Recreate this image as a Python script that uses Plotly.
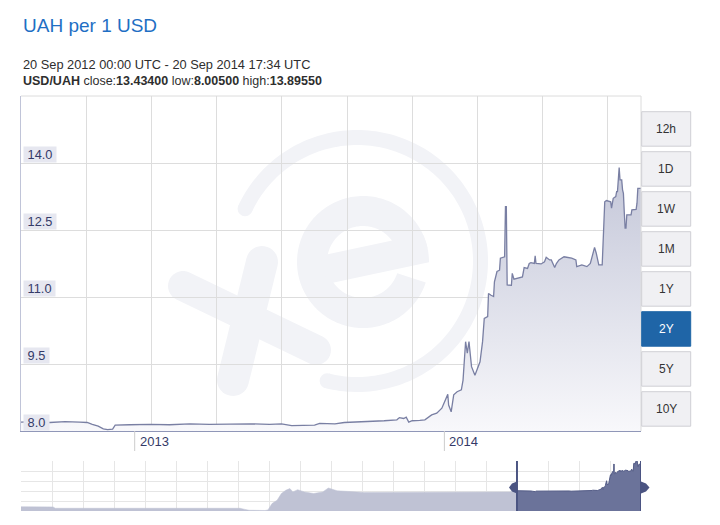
import numpy as np
import plotly.graph_objects as go

# ---------------- data ----------------
title_text = "UAH per 1 USD"
period_text = "20 Sep 2012 00:00 UTC - 20 Sep 2014 17:34 UTC"
pair_name = "USD/UAH"
stat_names = ["close", "low", "high"]
stat_values = ["13.43400", "8.00500", "13.89550"]

dates = [
    "2012-09-20", "2012-10-06", "2012-10-24", "2012-11-11", "2012-11-28", "2012-12-07",
    "2012-12-13", "2012-12-20", "2012-12-26", "2012-12-31", "2013-01-06", "2013-01-09",
    "2013-01-26", "2013-02-19", "2013-03-14", "2013-04-07", "2013-04-30", "2013-05-24",
    "2013-06-17", "2013-07-10", "2013-07-24", "2013-08-05", "2013-08-20", "2013-09-01",
    "2013-09-07", "2013-09-25", "2013-10-06", "2013-10-24", "2013-11-05", "2013-11-22",
    "2013-12-07", "2013-12-10", "2013-12-15", "2013-12-18", "2013-12-21", "2013-12-25",
    "2014-01-03", "2014-01-09", "2014-01-17", "2014-01-23", "2014-01-29", "2014-02-01",
    "2014-02-05", "2014-02-06", "2014-02-09", "2014-02-12", "2014-02-16", "2014-02-21",
    "2014-02-23", "2014-02-26", "2014-02-28", "2014-03-02", "2014-03-05", "2014-03-09",
    "2014-03-12", "2014-03-15", "2014-03-18", "2014-03-20", "2014-03-24", "2014-03-25",
    "2014-03-28", "2014-03-31", "2014-04-01", "2014-04-04", "2014-04-07", "2014-04-08",
    "2014-04-13", "2014-04-14", "2014-04-15", "2014-04-16", "2014-04-21", "2014-04-22",
    "2014-04-24", "2014-04-30", "2014-05-04", "2014-05-06", "2014-05-10", "2014-05-12",
    "2014-05-14", "2014-05-18", "2014-05-19", "2014-05-20", "2014-05-26", "2014-05-30",
    "2014-06-01", "2014-06-05", "2014-06-07", "2014-06-11", "2014-06-13", "2014-06-16",
    "2014-06-22", "2014-06-25", "2014-07-01", "2014-07-06", "2014-07-07", "2014-07-13",
    "2014-07-16", "2014-07-19", "2014-07-23", "2014-07-26", "2014-07-28", "2014-07-30",
    "2014-08-02", "2014-08-06", "2014-08-09", "2014-08-11", "2014-08-16", "2014-08-17",
    "2014-08-19", "2014-08-22", "2014-08-23", "2014-08-24", "2014-08-25", "2014-08-26",
    "2014-08-27", "2014-08-29", "2014-08-30", "2014-08-31", "2014-09-01", "2014-09-02",
    "2014-09-03", "2014-09-04", "2014-09-09", "2014-09-10", "2014-09-15", "2014-09-16",
    "2014-09-17", "2014-09-20 17:34",
]
rates = [
    8.20, 8.21, 8.19, 8.21, 8.20, 8.19,
    8.15, 8.11, 8.05, 8.03, 8.04, 8.13,
    8.14, 8.15, 8.14, 8.16, 8.15, 8.16,
    8.16, 8.15, 8.16, 8.12, 8.12, 8.13,
    8.17, 8.16, 8.19, 8.20, 8.22, 8.23,
    8.25, 8.30, 8.28, 8.31, 8.20, 8.23,
    8.24, 8.25, 8.36, 8.40, 8.51, 8.66,
    8.82, 8.58, 8.43, 8.81, 8.88, 8.92,
    9.14, 10.00, 9.74, 10.00, 9.44, 9.25,
    9.40, 9.55, 10.00, 10.52, 10.56, 11.08,
    11.04, 11.01, 11.34, 11.57, 11.60, 11.87,
    11.90, 13.02, 13.02, 11.27, 11.26, 11.53,
    11.40, 11.42, 11.45, 11.66, 11.64, 11.75,
    11.77, 11.75, 11.92, 11.75, 11.74, 11.79,
    11.89, 11.83, 11.83, 11.66, 11.75, 11.83,
    11.90, 11.89, 11.87, 11.83, 11.68, 11.72,
    11.70, 11.68, 11.75, 11.98, 12.11, 11.98,
    11.72, 11.72, 13.13, 13.16, 13.13, 12.99,
    13.21, 13.25, 13.36, 13.36, 13.66, 13.90,
    13.62, 13.62, 13.40, 13.32, 12.91, 12.54,
    12.54, 12.84, 12.84, 12.95, 12.96, 13.10,
    13.43, 13.434,
]

# longer history shown in the navigator strip
hist_dates = [
    "2004-09-20", "2005-03-28", "2005-04-10", "2008-04-02", "2008-05-01", "2008-05-26",
    "2008-08-27", "2008-09-14", "2008-10-08", "2008-11-07", "2008-12-02", "2008-12-28",
    "2009-01-21", "2009-02-08", "2009-03-08", "2009-04-16", "2009-06-10", "2009-08-03",
    "2009-09-05", "2009-10-26", "2010-04-05", "2011-01-27", "2011-10-27", "2012-08-10",
]
hist_rates = [
    5.33, 5.30, 5.05, 5.05, 4.85, 4.70,
    4.65, 4.75, 5.90, 6.50, 7.70, 8.30,
    8.60, 8.00, 8.40, 8.00, 7.70, 8.00,
    8.70, 8.20, 7.90, 7.93, 7.95, 8.00,
]

year_tick_dates = ["2013-02-01", "2014-02-01"]
year_tick_text = ["2013", "2014"]
y_tick_values = [8.0, 9.5, 11.0, 12.5, 14.0]
period_buttons = ["12h", "1D", "1W", "1M", "1Y", "2Y", "5Y", "10Y"]
active_button = "2Y"

# ---------------- geometry helpers (page pixels -> paper) ----------------
BODY = 8                      # default body margin of the html page
W, H = 720 - BODY, 525 - BODY
PL, PR, PT, PB = 21, 641, 96, 511   # plot region in page pixels
MAIN_BOTTOM, NAV_TOP = 431, 461


def fx(x):
    return (x - PL) / (PR - PL)


def fy(y):
    return (PB - y) / (PB - PT)


def path_from(points):
    return "M " + " L ".join(f"{fx(x):.5f},{fy(y):.5f}" for x, y in points) + " Z"


WM = "#f2f3f7"
shapes = []


def capsule(p0, p1, r, n=18):
    (x0, y0), (x1, y1) = p0, p1
    ang = np.arctan2(y1 - y0, x1 - x0)
    pts = []
    for a in np.linspace(ang - np.pi / 2, ang + np.pi / 2, n):
        pts.append((x1 + r * np.cos(a), y1 + r * np.sin(a)))
    for a in np.linspace(ang + np.pi / 2, ang + 3 * np.pi / 2, n):
        pts.append((x0 + r * np.cos(a), y0 + r * np.sin(a)))
    return pts


def add_poly(points, color=WM, layer="below"):
    shapes.append(dict(type="path", path=path_from(points), xref="paper", yref="paper",
                       fillcolor=color, line=dict(width=0), layer=layer))


def add_circle(cx, cy, r, color=WM, layer="below"):
    shapes.append(dict(type="circle", xref="paper", yref="paper",
                       x0=fx(cx - r), x1=fx(cx + r), y0=fy(cy + r), y1=fy(cy - r),
                       fillcolor=color, line=dict(width=0), layer=layer))


# watermark: ring
cx, cy, rin, rout = 357, 261, 116, 131
a = np.radians(np.linspace(155, -104, 160))
ring = [(cx + rout * np.cos(t), cy - rout * np.sin(t)) for t in a] + \
       [(cx + rin * np.cos(t), cy - rin * np.sin(t)) for t in a[::-1]]
add_poly(ring)
rm = (rin + rout) / 2
for t in (a[0], a[-1]):
    add_circle(cx + rm * np.cos(t), cy - rm * np.sin(t), (rout - rin) / 2)

# watermark: "x"
add_poly(capsule((183, 286), (316, 350), 15))
add_poly(capsule((233, 380), (262, 262), 16))

# watermark: "e"
ecx, ecy, R, r, th = 363, 262, 66, 36, np.radians(12)


def tr(u, v):
    X = u * np.cos(th) - v * np.sin(th)
    Yu = u * np.sin(th) + v * np.cos(th)
    return (ecx + X, ecy - Yu)


ang = np.radians(np.linspace(0, 330, 150))
e_ring = [tr(R * np.cos(t), R * np.sin(t)) for t in ang] + \
         [tr(r * np.cos(t), r * np.sin(t)) for t in ang[::-1]]
add_poly(e_ring)
ybot, ytop = -14, 15
arc = np.linspace(np.arcsin(ybot / R), np.arcsin(ytop / R), 20)
bar = [tr(-r - 4, ybot)] + [tr(R * np.cos(t), R * np.sin(t)) for t in arc] + [tr(-r - 4, ytop)]
add_poly(bar)

# plot frame: top and right edges
shapes.append(dict(type="line", xref="paper", yref="paper", x0=0, x1=1, y0=1, y1=1,
                   line=dict(color="#dcdcdc", width=1)))
shapes.append(dict(type="line", xref="paper", yref="paper", x0=1, x1=1, y0=fy(MAIN_BOTTOM), y1=1,
                   line=dict(color="#dcdcdc", width=1)))

# year tick lines
for d in year_tick_dates:
    shapes.append(dict(type="line", xref="x", yref="paper", x0=d, x1=d,
                       y0=fy(MAIN_BOTTOM), y1=fy(451), line=dict(color="#cccccc", width=1)))

# navigator selection edges and handles
sel_color = "#4b5482"
for d in (dates[0], dates[-1]):
    shapes.append(dict(type="line", xref="x2", yref="paper", x0=d, x1=d,
                       y0=0, y1=fy(NAV_TOP), line=dict(color=sel_color, width=2), layer="above"))
hy = 487.5
add_poly([(517, hy - 6), (512, hy - 4), (509, hy), (512, hy + 4), (517, hy + 6)], sel_color, "above")
add_poly([(641, hy - 6), (646, hy - 4), (649.5, hy), (646, hy + 4), (641, hy + 6)], sel_color, "above")

# period buttons
annotations = []
for i, lab in enumerate(period_buttons):
    top = 111.7 + 40 * i
    bot = top + 34.5
    active = lab == active_button
    shapes.append(dict(type="rect", xref="paper", yref="paper",
                       x0=fx(641.7), x1=fx(690.7), y0=fy(bot), y1=fy(top),
                       fillcolor="#1f65a7" if active else "#f0f0f3",
                       line=dict(color="#1f65a7" if active else "#cfcfd4", width=1), layer="above"))
    annotations.append(dict(x=fx(666.2), y=fy((top + bot) / 2), xref="paper", yref="paper",
                            text=lab, showarrow=False, xanchor="center", yanchor="middle",
                            font=dict(size=12, color="#ffffff" if active else "#333333")))

# header texts
FONT = "Liberation Sans, Arial, sans-serif"
annotations.append(dict(x=0, y=fy(25), xref="paper", yref="paper", text=title_text,
                        showarrow=False, xanchor="left", yanchor="middle",
                        font=dict(size=19, color="#1f6fc4")))
annotations.append(dict(x=0, y=fy(64.5), xref="paper", yref="paper", text=period_text,
                        showarrow=False, xanchor="left", yanchor="middle",
                        font=dict(size=12.8, color="#2e2e2e")))
stats = f"<b>{pair_name}</b> " + " ".join(f"{n}:<b>{v}</b>" for n, v in zip(stat_names, stat_values))
annotations.append(dict(x=0, y=fy(81), xref="paper", yref="paper", text=stats,
                        showarrow=False, xanchor="left", yanchor="middle",
                        font=dict(size=12.5, color="#2e2e2e")))

# y labels with tinted boxes
for v in y_tick_values:
    annotations.append(dict(x=0, y=v, xref="paper", yref="y", text=f"\u00a0{v:.1f}\u00a0",
                            showarrow=False, xanchor="left", yanchor="bottom", xshift=2, yshift=0,
                            bgcolor="#e6e7f0", borderpad=0,
                            font=dict(size=12.8, color="#343a68")))

# year labels
for d, t in zip(year_tick_dates, year_tick_text):
    annotations.append(dict(x=d, y=fy(441.5), xref="x", yref="paper", text=t, showarrow=False,
                            xanchor="left", yanchor="middle", xshift=3,
                            font=dict(size=13, color="#343a68")))

# ---------------- traces ----------------
fig = go.Figure()
fig.add_trace(go.Scatter(
    x=dates, y=rates, mode="lines", line=dict(color="#797fa3", width=1.3),
    fill="tozeroy",
    fillgradient=dict(type="vertical", colorscale=[[0, "#f8f8fb"], [1, "#c3c6d8"]], start=8, stop=14),
    xaxis="x", yaxis="y", hoverinfo="skip", showlegend=False))

nav_dates = hist_dates + dates
nav_rates = hist_rates + rates
fig.add_trace(go.Scatter(
    x=nav_dates, y=nav_rates, mode="lines", line=dict(color="#bfc2d4", width=0.5),
    fill="tozeroy", fillcolor="#bfc2d4", xaxis="x2", yaxis="y2", hoverinfo="skip", showlegend=False))
fig.add_trace(go.Scatter(
    x=dates, y=rates, mode="lines", line=dict(color="#565e88", width=1),
    fill="tozeroy", fillcolor="#6b739a", xaxis="x2", yaxis="y2", hoverinfo="skip", showlegend=False))

# ---------------- axes ----------------
t0 = np.datetime64(dates[0].replace(" ", "T"))
t1 = np.datetime64(dates[-1].replace(" ", "T"))
main_ms = (t1 - t0) / np.timedelta64(1, "ms")
n0 = np.datetime64(nav_dates[0])
nav_ms = (t1 - n0) / np.timedelta64(1, "ms")

nav_lo, nav_hi = 4.56, 13.56

fig.update_layout(
    width=W, height=H,
    margin=dict(l=PL - BODY, r=720 - PR, t=PT - BODY, b=525 - PB, pad=0),
    paper_bgcolor="white", plot_bgcolor="white",
    font=dict(family=FONT, size=12, color="#333333"),
    showlegend=False,
    shapes=shapes, annotations=annotations,
    xaxis=dict(type="date", range=[dates[0], dates[-1]], domain=[0, 1], anchor="y",
               tickmode="linear", tick0=dates[0], dtick=main_ms * 65.2 / 620,
               showticklabels=False, ticks="", showgrid=True, gridcolor="#dddddd", gridwidth=1,
               showline=True, linecolor="#9097b8", linewidth=1, zeroline=False),
    yaxis=dict(range=[8, 15.5], domain=[fy(MAIN_BOTTOM), 1], anchor="x",
               tickmode="linear", tick0=8, dtick=1.5, showticklabels=False, ticks="",
               showgrid=True, gridcolor="#dddddd", gridwidth=1,
               showline=True, linecolor="#c0c4d8", linewidth=1, zeroline=False),
    xaxis2=dict(type="date", range=[nav_dates[0], dates[-1]], domain=[0, 1], anchor="y2",
                tickmode="linear", tick0=nav_dates[0], dtick=nav_ms / 20,
                showticklabels=False, ticks="", showgrid=True, gridcolor="#e6e6e6",
                showline=False, zeroline=False),
    yaxis2=dict(range=[nav_lo, nav_hi], domain=[0, fy(NAV_TOP)], anchor="x2",
                tickmode="linear", tick0=nav_lo, dtick=(nav_hi - nav_lo) / 5,
                showticklabels=False, ticks="", showgrid=True, gridcolor="#e6e6e6",
                showline=False, zeroline=False),
)

fig.write_html("out.html")
